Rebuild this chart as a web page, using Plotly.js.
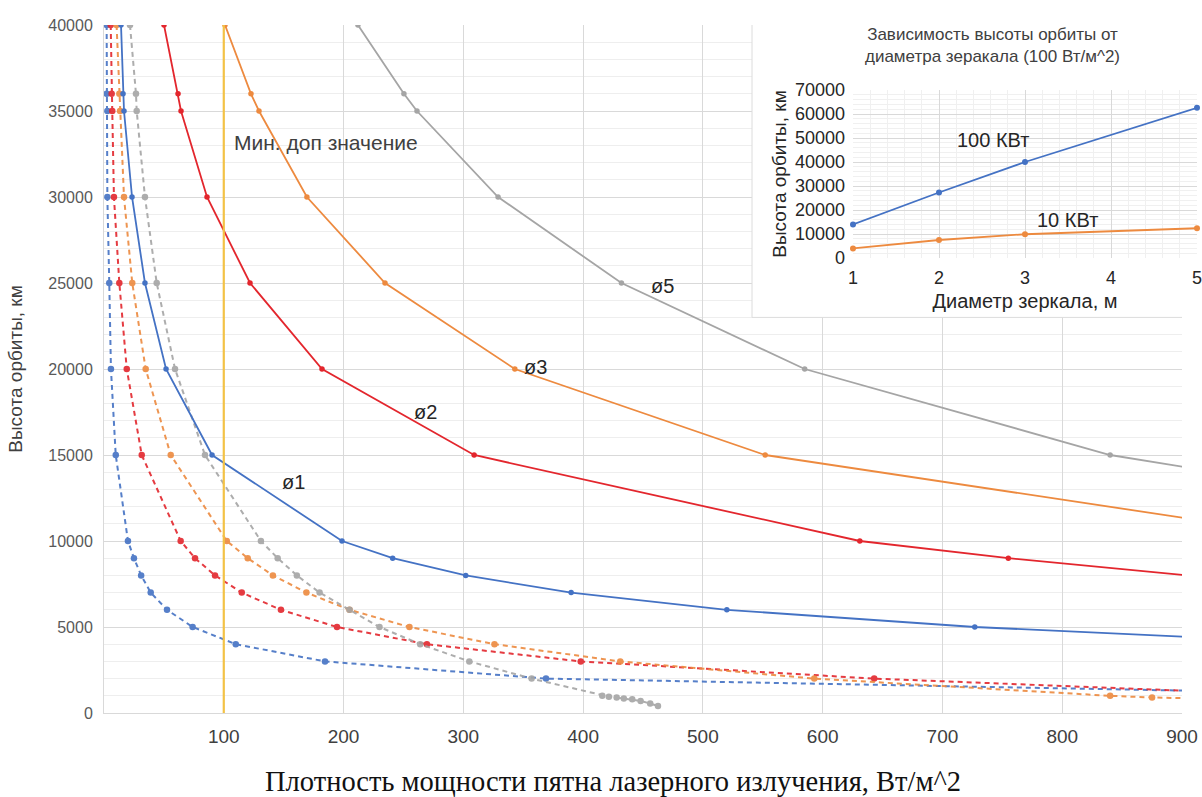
<!DOCTYPE html>
<html>
<head>
<meta charset="utf-8">
<script src="https://cdn.plot.ly/plotly-3.0.1.min.js"></script>
<style>
  html, body { margin: 0; padding: 0; background: #ffffff; }
  #chart { width: 1202px; height: 797px; }
</style>
</head>
<body>
<div id="chart"></div>
<script>
// ---------- main chart data (x = power density, W/m^2; y = orbit height, km) ----------
const hLong = [40000, 36000, 35000, 30000, 25000, 20000, 15000, 10000, 9000, 8000, 7000, 6000, 5000, 4000, 3000, 2000, 1000];

// solid curves, 100 kW
const d1Heights = [40000, 36000, 35000, 30000, 25000, 20000, 15000, 10000, 9000, 8000, 7000, 6000, 5000, 4000];
const d1Density = [14.2, 15.9, 16.7, 23.4, 34.2, 51.8, 90.2, 198.7, 241, 302, 390, 520, 727, 1035];

const d2Heights = [40000, 36000, 35000, 30000, 25000, 20000, 15000, 10000, 9000, 8000];
const d2Density = [50.1, 61.8, 64.3, 86, 121.9, 182, 309, 631, 755, 905];

const d3Heights = [40000, 36000, 35000, 30000, 25000, 20000, 15000, 10000];
const d3Density = [101, 122.7, 129.4, 169.4, 234.6, 343, 552, 1030];

const d5Heights = [40000, 36000, 35000, 30000, 25000, 20000, 15000, 10000];
const d5Density = [212, 250.4, 261.3, 329, 432, 585, 840, 1283];

// dashed curves, 10 kW
const b10Density = [2.2, 2.2, 2.8, 2.8, 4.4, 5.8, 9.8, 20, 25, 31, 39, 52.6, 74, 110, 184.5, 369, 1130];
const r10Density = [5.6, 6.4, 6.9, 8.3, 12.8, 19, 31.5, 64, 76, 92.7, 115, 147.7, 194.5, 269.6, 398, 643, 1010];

const o10Heights = [40000, 36000, 35000, 30000, 25000, 20000, 15000, 10000, 9000, 8000, 7000, 6000, 5000, 4000, 3000, 2000, 1000, 900, 800];
const o10Density = [10.5, 12.8, 13.4, 16.7, 23.6, 34.8, 55.7, 102.5, 120, 141, 169, 205, 255, 326, 431, 593, 840, 875, 950];

const g10Heights = [40000, 36000, 35000, 30000, 25000, 20000, 15000, 10000, 9000, 8000, 7000, 6000, 5000, 4000, 3000, 2000, 1000, 950, 900, 850, 800, 700, 550, 400];
const g10Density = [21.7, 26.7, 27.3, 34.2, 44, 59.3, 84.3, 131, 145, 161, 180, 205, 230, 264, 305, 357, 416, 421.5, 428, 434, 441, 448, 456, 462.5];

const minDensity = 100;           // "Мин. доп значение"
const minLineHeights = [0, 40000];

const xTickVals = [100, 200, 300, 400, 500, 600, 700, 800, 900];

// ---------- inset data ----------
const mirrorD = [1, 2, 3, 5];
const h100kW = [14000, 27300, 40000, 62600];
const h10kW  = [4000, 7500, 9900, 12400];
const insetTickVals = [1, 2, 3, 4, 5];

// ---------- styles ----------
const C = { blue: '#4472C4', red: '#E3262D', orange: '#ED8A3F', gray: '#A5A5A5', yellow: '#F3C246' };
const SANS = 'Liberation Sans, Arial, sans-serif';

function solid(x, y, color, name) {
  return { type: 'scatter', mode: 'lines+markers', x: x, y: y, name: name,
    line: { color: color, width: 1.8 }, marker: { color: color, size: 5.5 },
    xaxis: 'x', yaxis: 'y', hoverinfo: 'x+y' };
}
function dashed(x, y, color, name) {
  return { type: 'scatter', mode: 'lines+markers', x: x, y: y, name: name,
    line: { color: color, width: 2, dash: '5px,4px' }, marker: { color: color, size: 6.5 },
    opacity: 0.9, xaxis: 'x', yaxis: 'y', hoverinfo: 'x+y' };
}

const traces = [
  dashed(b10Density, hLong, C.blue, 'ø1, 10 кВт'),
  dashed(r10Density, hLong, C.red, 'ø2, 10 кВт'),
  dashed(o10Density, o10Heights, C.orange, 'ø3, 10 кВт'),
  dashed(g10Density, g10Heights, C.gray, 'ø5, 10 кВт'),
  solid(d1Density, d1Heights, C.blue, 'ø1'),
  solid(d2Density, d2Heights, C.red, 'ø2'),
  solid(d3Density, d3Heights, C.orange, 'ø3'),
  solid(d5Density, d5Heights, C.gray, 'ø5'),
  { type: 'scatter', mode: 'lines', x: [minDensity, minDensity], y: minLineHeights, name: 'Мин. доп значение',
    line: { color: C.yellow, width: 2.2 }, xaxis: 'x', yaxis: 'y' },
  // inset
  { type: 'scatter', mode: 'lines+markers', x: mirrorD, y: h100kW, name: '100 КВт',
    line: { color: C.blue, width: 1.8 }, marker: { color: C.blue, size: 6 }, xaxis: 'x2', yaxis: 'y2', cliponaxis: false },
  { type: 'scatter', mode: 'lines+markers', x: mirrorD, y: h10kW, name: '10 КВт',
    line: { color: C.orange, width: 1.8 }, marker: { color: C.orange, size: 6 }, xaxis: 'x2', yaxis: 'y2', cliponaxis: false }
];

// pixel geometry: plot area spans x 104..1197, y 25..713
const W = 1202, Hh = 797, L = 104, R = 5, T = 25, B = 84;
const PW = W - L - R, PH = Hh - T - B;
const px = v => (v - L) / PW;           // page x -> paper x
const py = v => (Hh - B - v) / PH;      // page y -> paper y

const layout = {
  width: W, height: Hh,
  margin: { l: L, r: R, t: T, b: B, pad: 0 },
  paper_bgcolor: '#ffffff', plot_bgcolor: 'rgba(0,0,0,0)',
  showlegend: false,
  font: { family: SANS, color: '#404040' },
  xaxis: {
    domain: [0, px(1182)], range: [0, 900], tickvals: xTickVals, tickformat: 'd',
    showgrid: true, gridcolor: '#d9d9d9', gridwidth: 1,
    showline: true, linecolor: '#d9d9d9', zeroline: false, ticks: '',
    tickfont: { size: 19, color: '#404040', family: SANS }, ticklabelstandoff: 6, ticklabeloverflow: 'allow'
  },
  yaxis: {
    domain: [0, 1], range: [0, 40000], dtick: 5000, tick0: 0, tickformat: 'd',
    showgrid: true, gridcolor: '#d9d9d9', gridwidth: 1,
    minor: { dtick: 1000, showgrid: true, gridcolor: '#eeeeee', gridwidth: 1 },
    showline: true, linecolor: '#d9d9d9', zeroline: false, ticks: '',
    tickfont: { size: 16, color: '#595959', family: SANS }, ticklabelstandoff: 7,
    title: { text: 'Высота орбиты, км', font: { size: 19, color: '#404040', family: SANS }, standoff: 20 }
  },
  xaxis2: {
    domain: [px(853), px(1197)], anchor: 'y2', range: [1, 5], tickvals: insetTickVals, tickformat: 'd',
    showgrid: true, gridcolor: '#d9d9d9',
    minor: { dtick: 0.2, showgrid: true, gridcolor: '#f0f0f0' },
    showline: false, zeroline: false, ticks: '', ticklabeloverflow: 'allow',
    tickfont: { size: 18, color: '#262626', family: SANS }, ticklabelstandoff: 7,
    title: { text: 'Диаметр зеркала, м', font: { size: 20, color: '#262626', family: SANS }, standoff: 6 }
  },
  yaxis2: {
    domain: [py(258), py(90)], anchor: 'x2', range: [0, 70000], dtick: 10000, tickformat: 'd',
    showgrid: true, gridcolor: '#d9d9d9',
    minor: { dtick: 2000, showgrid: true, gridcolor: '#f0f0f0' },
    showline: false, zeroline: false, ticks: '',
    tickfont: { size: 18, color: '#262626', family: SANS }, ticklabelstandoff: 7,
    title: { text: 'Высота орбиты, км', font: { size: 19, color: '#262626', family: SANS }, standoff: 3 }
  },
  shapes: [
    // white inset panel covering the main grid
    { type: 'rect', xref: 'x', yref: 'y', layer: 'between',
      x0: 541, x1: 1000, y0: 23000, y1: 45000,
      fillcolor: '#ffffff', line: { color: '#dcdcdc', width: 1 } }
  ],
  annotations: [
    { xref: 'x', yref: 'y', x: 107, y: 33190, xanchor: 'left', yanchor: 'middle', showarrow: false,
      text: 'Мин. доп значение', font: { size: 21, color: '#404040', family: SANS } },
    { xref: 'x', yref: 'y', x: 157.8, y: 13450, showarrow: false, text: 'ø1', font: { size: 20, color: '#262626', family: SANS } },
    { xref: 'x', yref: 'y', x: 268, y: 17525, showarrow: false, text: 'ø2', font: { size: 20, color: '#262626', family: SANS } },
    { xref: 'x', yref: 'y', x: 360, y: 20090, showarrow: false, text: 'ø3', font: { size: 20, color: '#262626', family: SANS } },
    { xref: 'x', yref: 'y', x: 466, y: 24800, showarrow: false, text: 'ø5', font: { size: 20, color: '#262626', family: SANS } },
    { xref: 'x2', yref: 'y2', x: 2.63, y: 49170, showarrow: false, text: '100 КВт', font: { size: 20, color: '#262626', family: SANS } },
    { xref: 'x2', yref: 'y2', x: 3.49, y: 15830, showarrow: false, text: '10 КВт', font: { size: 20, color: '#262626', family: SANS } },
    { xref: 'paper', yref: 'paper', x: px(992), y: py(45), xanchor: 'center', yanchor: 'middle', showarrow: false,
      text: 'Зависимость высоты орбиты от<br>диаметра зеракала (100 Вт/м^2)', font: { size: 17, color: '#404040', family: SANS } },
    { xref: 'paper', yref: 'paper', x: px(613), y: py(781), xanchor: 'center', yanchor: 'middle', showarrow: false,
      text: 'Плотность мощности пятна лазерного излучения, Вт/м^2',
      font: { size: 28.5, color: '#111111', family: 'Liberation Serif, Times New Roman, serif' } }
  ]
};

Plotly.newPlot('chart', traces, layout, { staticPlot: true, displayModeBar: false });
</script>
</body>
</html>
